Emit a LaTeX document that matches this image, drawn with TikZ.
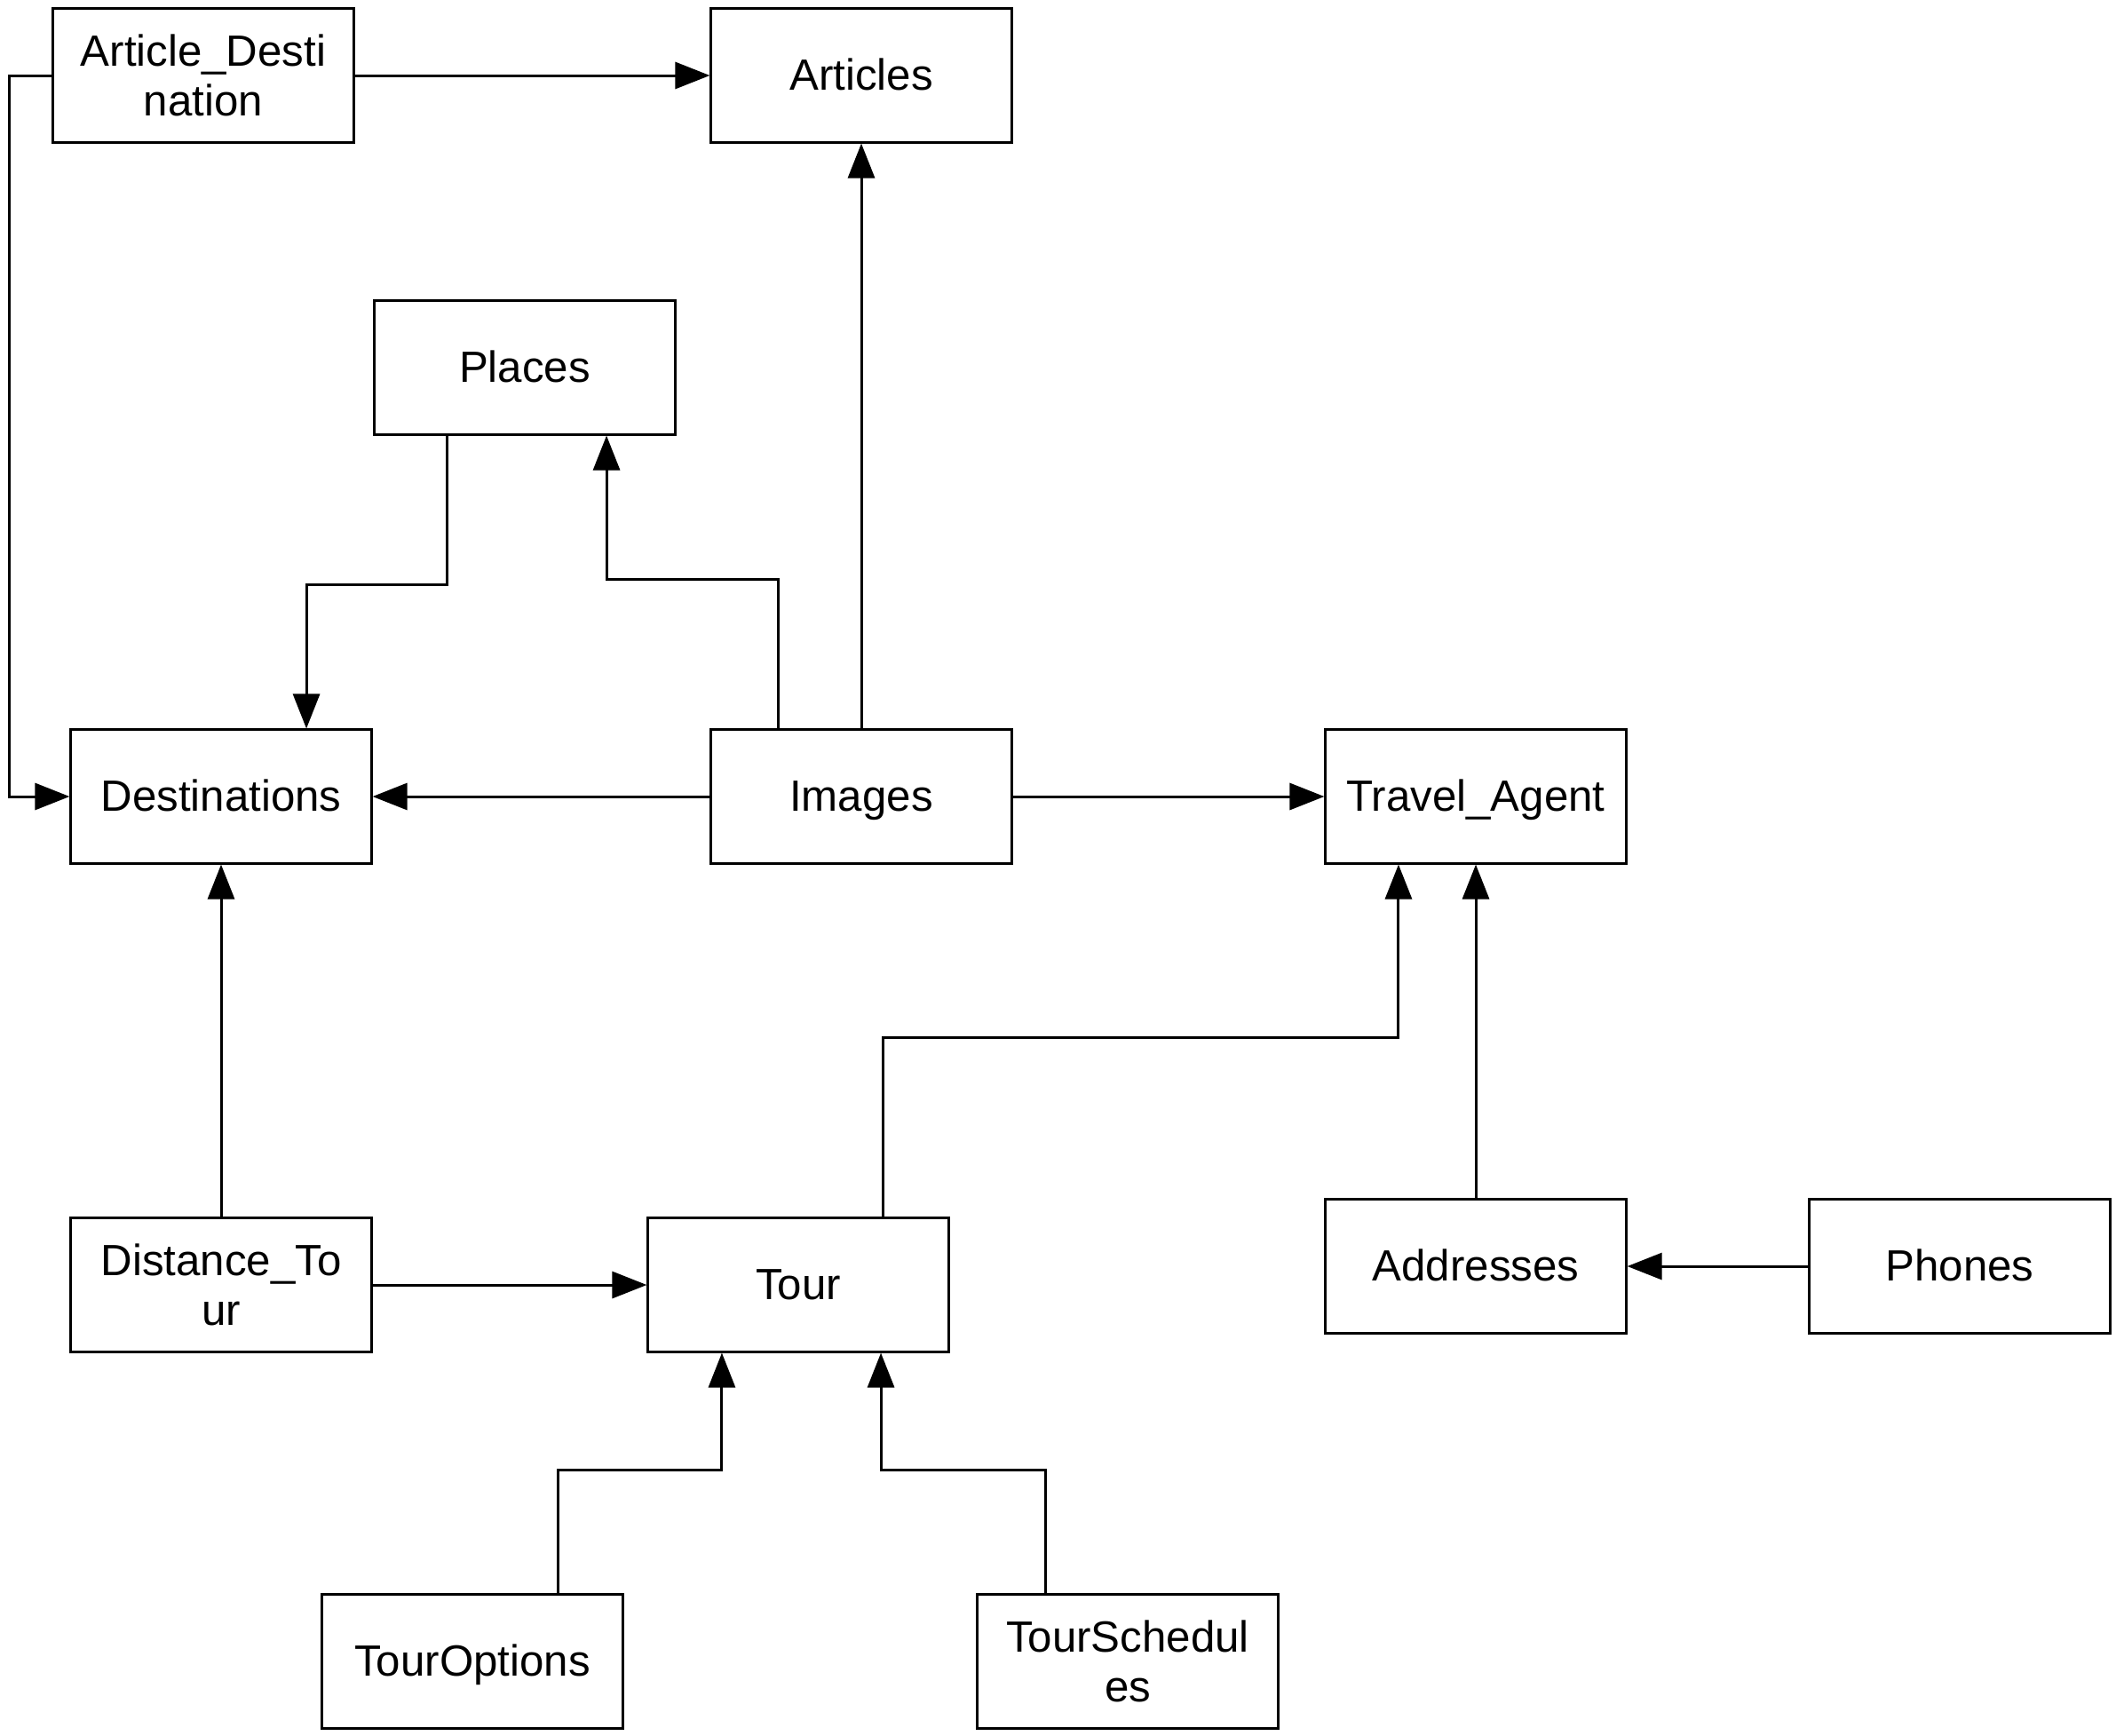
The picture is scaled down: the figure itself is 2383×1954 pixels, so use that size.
\documentclass[tikz,border=0pt]{standalone}
\usepackage{fontspec}
\setmainfont{Liberation Sans}
\usetikzlibrary{positioning}
\usetikzlibrary{arrows.meta}
\tikzset{
  % A table box
  tbl/.style={
    draw=black, fill=white, rectangle, align=center, line width=0.3mm,
    font=\fontsize{14}{16}\selectfont, inner sep=2pt,
    text height=9.6pt, text depth=0pt,
    minimum width=3.38cm, minimum height=1.5cm},
  % A table box whose name is broken over two lines
  tbltwo/.style={tbl, text height={}, text depth={}},
  % Foreign key references
  ref/.style={-{Triangle[length=3.9mm, width=3mm]}, draw=black, line width=0.3mm},
}

\begin{document}
\begin{tikzpicture}[x=0.01cm, y=-0.01cm]

  \useasboundingbox (0,0) rectangle (2383,1954);

  \node[tbltwo] (artdest)   at (229,85)    {Article\_Desti\\nation};
  \node[tbl]    (articles)  at (970,85)    {Articles};
  \node[tbl]    (places)    at (591,414)   {Places};
  \node[tbl]    (dest)      at (249,897)   {Destinations};
  \node[tbl]    (images)    at (970,897)   {Images};
  \node[tbl]    (travel)    at (1662,897)  {Travel\_Agent};
  \node[tbltwo] (disttour)  at (249,1447)  {Distance\_To\\ur};
  \node[tbl]    (tour)      at (899,1447)  {Tour};
  \node[tbl]    (addr)      at (1662,1426) {Addresses};
  \node[tbl]    (phones)    at (2207,1426) {Phones};
  \node[tbl]    (touropt)   at (532,1871)  {TourOptions};
  \node[tbltwo] (toursched) at (1270,1871) {TourSchedul\\es};

  \draw[ref] (artdest) -- (articles);
  \draw[ref] (artdest.west) -- ++(-48,0) |- (dest.west);
  \draw[ref] ([xshift=-0.87cm]places.south) -- ++(0,168) -| ([xshift=0.96cm]dest.north);
  \draw[ref] ([xshift=-0.93cm]images.north) -- ++(0,-168) -| ([xshift=0.92cm]places.south);
  \draw[ref] (images) -- (articles);
  \draw[ref] (images) -- (dest);
  \draw[ref] (images) -- (travel);

  \draw[ref] (disttour) -- (dest);
  \draw[ref] (disttour) -- (tour);
  \draw[ref] ([xshift=0.95cm]tour.north) -- ++(0,-202) -| ([xshift=-0.87cm]travel.south);
  \draw[ref] (addr) -- (travel);
  \draw[ref] (phones) -- (addr);

  \draw[ref] ([xshift=0.96cm]touropt.north) -- ++(0,-139) -| ([xshift=-0.86cm]tour.south);
  \draw[ref] ([xshift=-0.92cm]toursched.north) -- ++(0,-139) -| ([xshift=0.93cm]tour.south);

\end{tikzpicture}
\end{document}
